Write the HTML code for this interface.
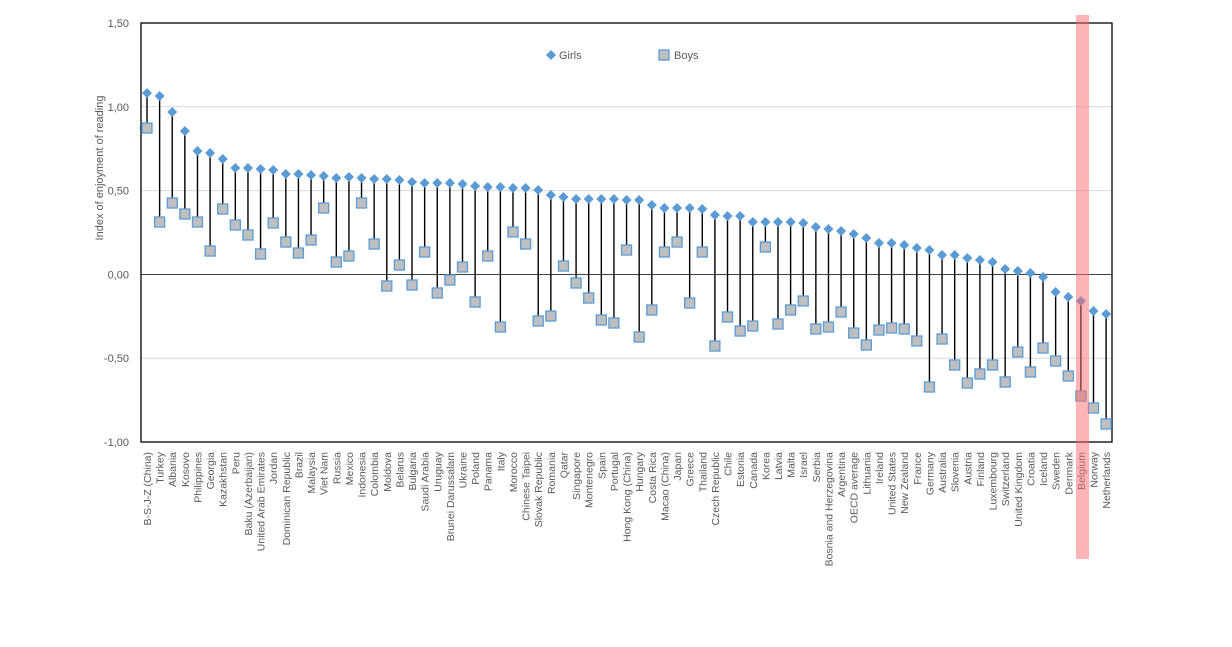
<!DOCTYPE html>
<html><head><meta charset="utf-8">
<style>
html,body{margin:0;padding:0;background:#fff;}
svg{display:block;font-family:"Liberation Sans",sans-serif;}
</style></head>
<body>
<svg id="c" width="1232" height="647" xmlns="http://www.w3.org/2000/svg"></svg>
<script>
var names=["B-S-J-Z (China)","Turkey","Albania","Kosovo","Philippines","Georgia","Kazakhstan","Peru","Baku (Azerbaijan)","United Arab Emirates","Jordan","Dominican Republic","Brazil","Malaysia","Viet Nam","Russia","Mexico","Indonesia","Colombia","Moldova","Belarus","Bulgaria","Saudi Arabia","Uruguay","Brunei Darussalam","Ukraine","Poland","Panama","Italy","Morocco","Chinese Taipei","Slovak Republic","Romania","Qatar","Singapore","Montenegro","Spain","Portugal","Hong Kong (China)","Hungary","Costa Rica","Macao (China)","Japan","Greece","Thailand","Czech Republic","Chile","Estonia","Canada","Korea","Latvia","Malta","Israel","Serbia","Bosnia and Herzegovina","Argentina","OECD average","Lithuania","Ireland","United States","New Zealand","France","Germany","Australia","Slovenia","Austria","Finland","Luxembourg","Switzerland","United Kingdom","Croatia","Iceland","Sweden","Denmark","Belgium","Norway","Netherlands"];
var g=[93,96,112,131,151,153,159,168,168,169,170,174,174,175,176,178,177,178,179,179,180,182,183,183,183,184,186,187,187,188,188,190,195,197,199,199,199,199,200,200,205,208,208,208,209,215,216,216,222,222,222,222,223,227,229,231,234,238,243,243,245,248,250,255,255,258,260,262,269,271,273,277,292,297,301,311,314];
var b=[128,222,203,214,222,251,209,225,235,254,223,242,253,240,208,262,256,203,244,286,265,285,252,293,280,267,302,256,327,232,244,321,316,266,283,298,320,323,250,337,310,252,242,303,252,346,317,331,326,247,324,310,301,329,327,312,333,345,330,328,329,341,387,339,365,383,374,365,382,352,372,348,361,376,396,408,424];
var s='';
var L=141,R=1112,T=23,B=442;
function Y(v){return 274.4-(v*167.6);}
// grid
[1,0.5,-0.5].forEach(function(v){s+='<line x1="'+L+'" x2="'+R+'" y1="'+Y(v)+'" y2="'+Y(v)+'" stroke="#d9d9d9" stroke-width="1"/>';});
s+='<line x1="'+L+'" x2="'+R+'" y1="274.5" y2="274.5" stroke="#404040" stroke-width="1"/>';
s+='<rect x="'+L+'" y="'+T+'" width="'+(R-L)+'" height="'+(B-T)+'" fill="none" stroke="#000" stroke-width="1.3"/>';
// tick labels
var tl=["1,50","1,00","0,50","0,00","-0,50","-1,00"];
tl.forEach(function(t,i){var v=1.5-i*0.5;s+='<text x="129" y="'+(Y(v)+4)+'" text-anchor="end" font-size="11" fill="#595959">'+t+'</text>';});
s+='<text transform="translate(103,168) rotate(-90)" text-anchor="middle" font-size="11" fill="#595959">Index of enjoyment of reading</text>';
// series
for(var i=0;i<names.length;i++){
 var x=147+i*12.62;
 s+='<line x1="'+x+'" x2="'+x+'" y1="'+g[i]+'" y2="'+b[i]+'" stroke="#000" stroke-width="1.4"/>';
}
for(var i=0;i<names.length;i++){
 var x=147+i*12.62;
 s+='<rect x="'+(x-5)+'" y="'+(b[i]-5)+'" width="10" height="10" fill="#bfbfbf" stroke="#5b9bd5" stroke-width="1.3"/>';
 s+='<polygon points="'+x+','+(g[i]-5)+' '+(x+5)+','+g[i]+' '+x+','+(g[i]+5)+' '+(x-5)+','+g[i]+'" fill="#5b9bd5"/>';
 s+='<text transform="translate('+(x+4)+',452) rotate(-90)" text-anchor="end" font-size="10.5" fill="#595959">'+names[i].replace('&','&amp;')+'</text>';
}
// legend
s+='<polygon points="551,50 556,55 551,60 546,55" fill="#5b9bd5"/>';
s+='<text x="559" y="59" font-size="11" fill="#595959">Girls</text>';
s+='<rect x="659" y="50" width="10" height="10" fill="#bfbfbf" stroke="#5b9bd5" stroke-width="1.3"/>';
s+='<text x="674" y="59" font-size="11" fill="#595959">Boys</text>';
// highlight
s+='<rect x="1076" y="15" width="13" height="544" fill="#ff6b6b" opacity="0.5"/>';
document.getElementById('c').innerHTML=s;
</script>
</body></html>
